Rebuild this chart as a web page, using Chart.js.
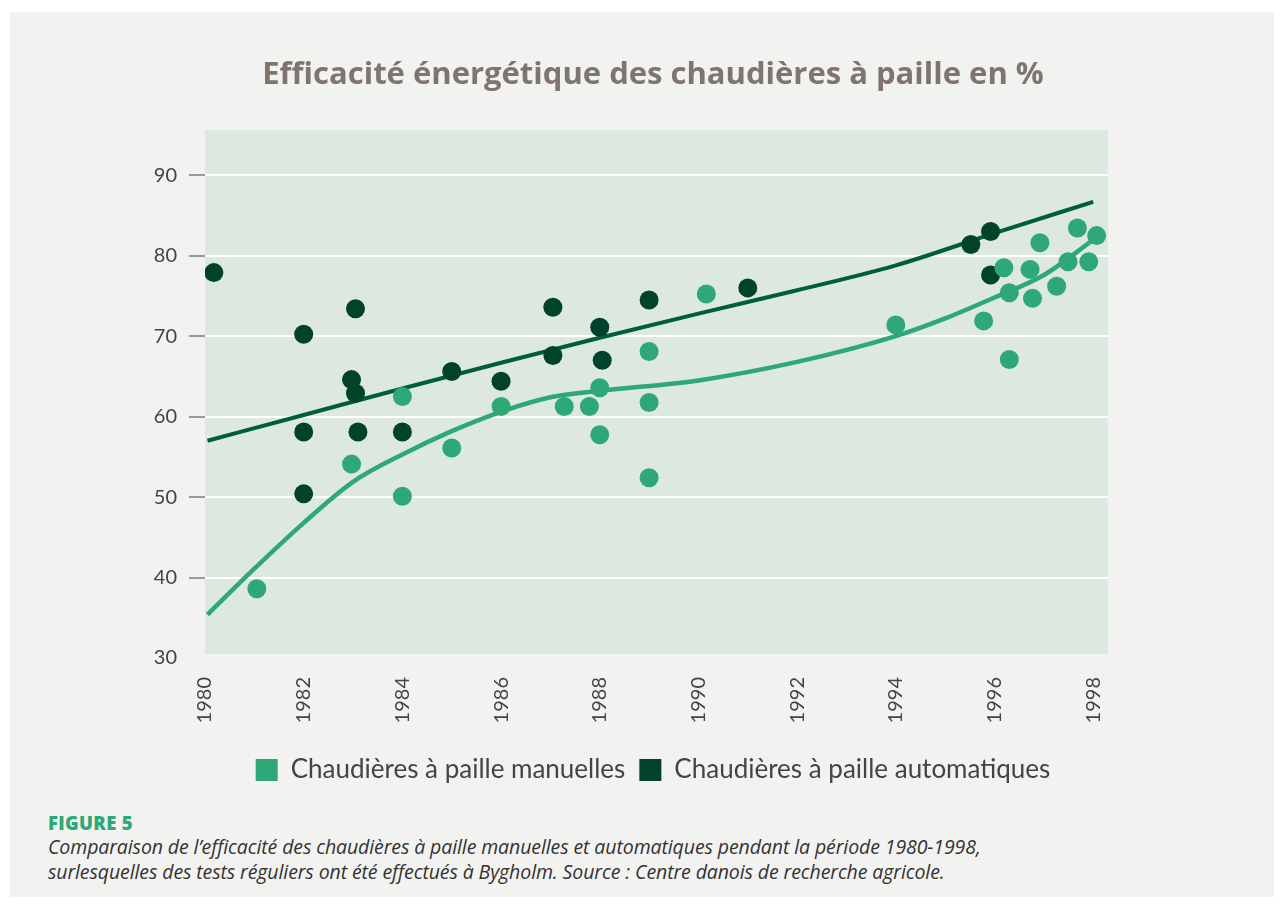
<!DOCTYPE html>
<html lang="fr">
<head>
<meta charset="utf-8">
<script src="https://cdn.jsdelivr.net/npm/chart.js@4.4.1/dist/chart.umd.min.js"></script>
<style>
  html, body { margin: 0; padding: 0; background: #ffffff; }
  .card {
    position: absolute; left: 10px; top: 12px; width: 1264px; height: 885px;
    background: #f2f2f0;
  }
  .chart-box { position: absolute; left: 0; top: 0; width: 1283px; height: 795px; }
  .fig { position: absolute; left: 48px; top: 811px; font-family: "Open Sans", sans-serif; }
  .fig h4 { margin: 0; color: #2ea876; font-size: 18.5px; font-weight: 800; letter-spacing: 0.3px; line-height: 23px; }
  .fig p { margin: 0; color: #333; font-size: 19.5px; font-style: italic; line-height: 25px; letter-spacing: -0.1px; }
</style>
</head>
<body>
<div class="card"></div>
<div class="chart-box"><canvas id="boilerChart" width="1283" height="795"></canvas></div>
<div class="fig">
  <h4>FIGURE 5</h4>
  <p>Comparaison de l’efficacité des chaudières à paille manuelles et automatiques pendant la période 1980-1998,<br>
  surlesquelles des tests réguliers ont été effectués à Bygholm. Source : Centre danois de recherche agricole.</p>
</div>
<script>
// axes
const xTicks = [1980, 1982, 1984, 1986, 1988, 1990, 1992, 1994, 1996, 1998];
const yTicks = [30, 40, 50, 60, 70, 80, 90];

// chaudières manuelles (mesures)
const manualYears = [1981.05, 1982.97, 1984.0, 1984.0, 1985.0, 1986.0, 1987.28, 1987.79, 1988.0, 1988.0,
  1989.0, 1989.0, 1989.0, 1990.16, 1994.0, 1995.78, 1996.3, 1996.19, 1996.3, 1996.72,
  1996.77, 1996.92, 1997.26, 1997.49, 1997.68, 1997.91, 1998.07];
const manualValues = [38.6, 54.1, 50.1, 62.5, 56.1, 61.25, 61.25, 61.25, 63.6, 57.75,
  68.1, 61.75, 52.4, 75.25, 71.4, 71.9, 67.1, 78.5, 75.4, 78.3,
  74.7, 81.6, 76.2, 79.25, 83.45, 79.25, 82.5];

// chaudières automatiques (mesures)
const autoYears = [1980.18, 1982.0, 1983.05, 1982.97, 1983.05, 1983.1, 1982.0, 1982.0, 1984.0, 1985.0,
  1986.0, 1987.05, 1987.05, 1988.0, 1988.05, 1989.0, 1991.0, 1995.52, 1995.92, 1995.92];
const autoValues = [77.9, 70.25, 73.4, 64.6, 62.9, 58.1, 58.1, 50.4, 58.1, 65.6,
  64.4, 73.6, 67.6, 71.1, 67.0, 74.5, 76.0, 81.4, 83.0, 77.6];

// courbes de tendance
const manualTrendYears = [1980.05, 1981, 1982, 1983, 1984, 1985, 1986, 1987, 1988, 1990, 1992, 1994, 1995, 1996, 1997, 1998.05];
const manualTrendValues = [35.4, 41.1, 46.8, 51.9, 55.3, 58.2, 60.6, 62.4, 63.2, 64.5, 66.8, 70.0, 72.2, 74.8, 77.6, 82.2];
const autoTrendYears = [1980.05, 1982, 1984, 1986, 1988, 1990, 1992, 1994, 1996, 1998];
const autoTrendValues = [57.0, 60.2, 63.5, 66.7, 69.8, 72.8, 75.7, 78.8, 82.8, 86.7];

const toPoints = (xs, ys) => xs.map((x, i) => ({ x: x, y: ys[i] }));

const LIGHT = "#2ea876";
const DARK = "#00432a";
const DARK_LINE = "#005f3b";
const FONT = "'Lato', 'Open Sans', sans-serif";

// fond vert de la zone de tracé
const plotBg = {
  id: "plotBg",
  beforeDraw(chart) {
    const { ctx, chartArea, scales } = chart;
    const bottom = scales.y.getPixelForValue(30.5);
    ctx.save();
    ctx.fillStyle = "#dce8e0";
    ctx.fillRect(chartArea.left, chartArea.top, chartArea.right - chartArea.left, bottom - chartArea.top);
    ctx.restore();
  },
};

const ctx = document.getElementById("boilerChart").getContext("2d");

const boilerChart = new Chart(ctx, {
  type: "scatter",
  data: {
    datasets: [
      {
        label: "Chaudières à paille manuelles",
        data: toPoints(manualYears, manualValues),
        backgroundColor: LIGHT,
        borderWidth: 0,
        pointRadius: 9.5,
        order: 0,
      },
      {
        label: "Chaudières à paille automatiques",
        data: toPoints(autoYears, autoValues),
        backgroundColor: DARK,
        borderWidth: 0,
        pointRadius: 9.5,
        order: 0,
      },
      {
        type: "line",
        label: "trend-manual",
        data: toPoints(manualTrendYears, manualTrendValues),
        borderColor: LIGHT,
        borderWidth: 4.5,
        pointRadius: 0,
        cubicInterpolationMode: "monotone",
        order: 1,
      },
      {
        type: "line",
        label: "trend-auto",
        data: toPoints(autoTrendYears, autoTrendValues),
        borderColor: DARK_LINE,
        borderWidth: 4,
        pointRadius: 0,
        cubicInterpolationMode: "monotone",
        order: 1,
      },
    ],
  },
  options: {
    responsive: false,
    animation: false,
    layout: {
      padding: { left: 23, right: 0, top: 0, bottom: 2 },
    },
    plugins: {
      title: {
        display: true,
        text: "Efficacité énergétique des chaudières à paille en %",
        color: "#7f756d",
        font: { family: "'Open Sans', sans-serif", size: 31, weight: "bold" },
        padding: { top: 57, bottom: 36 },
      },
      legend: {
        position: "bottom",
        labels: {
          filter: (item) => !item.text.startsWith("trend"),
          color: "#444",
          font: { family: FONT, size: 26 },
          boxWidth: 22,
          boxHeight: 22,
          padding: 14,
        },
      },
      tooltip: { enabled: false },
    },
    scales: {
      x: {
        type: "linear",
        min: 1980,
        max: 1998.3,
        afterBuildTicks: (scale) => {
          scale.ticks = xTicks.map((v) => ({ value: v }));
        },
        grid: { display: false },
        border: { display: false },
        ticks: {
          color: "#444",
          font: { family: FONT, size: 20 },
          maxRotation: 90,
          minRotation: 90,
          padding: 11,
          callback: (v) => String(v),
        },
        afterFit: (scale) => {
          scale.height = 85;
        },
      },
      y: {
        min: 30,
        max: 95.6,
        afterBuildTicks: (scale) => {
          scale.ticks = yTicks.map((v) => ({ value: v }));
        },
        grid: {
          color: (c) => (c.tick && c.tick.value === 30 ? "rgba(0,0,0,0)" : "#ffffff"),
          tickColor: (c) => (c.tick && c.tick.value === 30 ? "rgba(0,0,0,0)" : "#999"),
          lineWidth: 2,
          tickLength: 16,
        },
        border: { display: false },
        ticks: {
          color: "#444",
          font: { family: FONT, size: 20 },
          padding: 12,
        },
        afterFit: (scale) => {
          scale.width = 182;
        },
      },
      y2: {
        position: "right",
        min: 0,
        max: 1,
        grid: { display: false },
        border: { display: false },
        ticks: { display: false },
        afterFit: (scale) => {
          scale.width = 175;
        },
      },
    },
  },
  plugins: [plotBg],
});
</script>
</body>
</html>
